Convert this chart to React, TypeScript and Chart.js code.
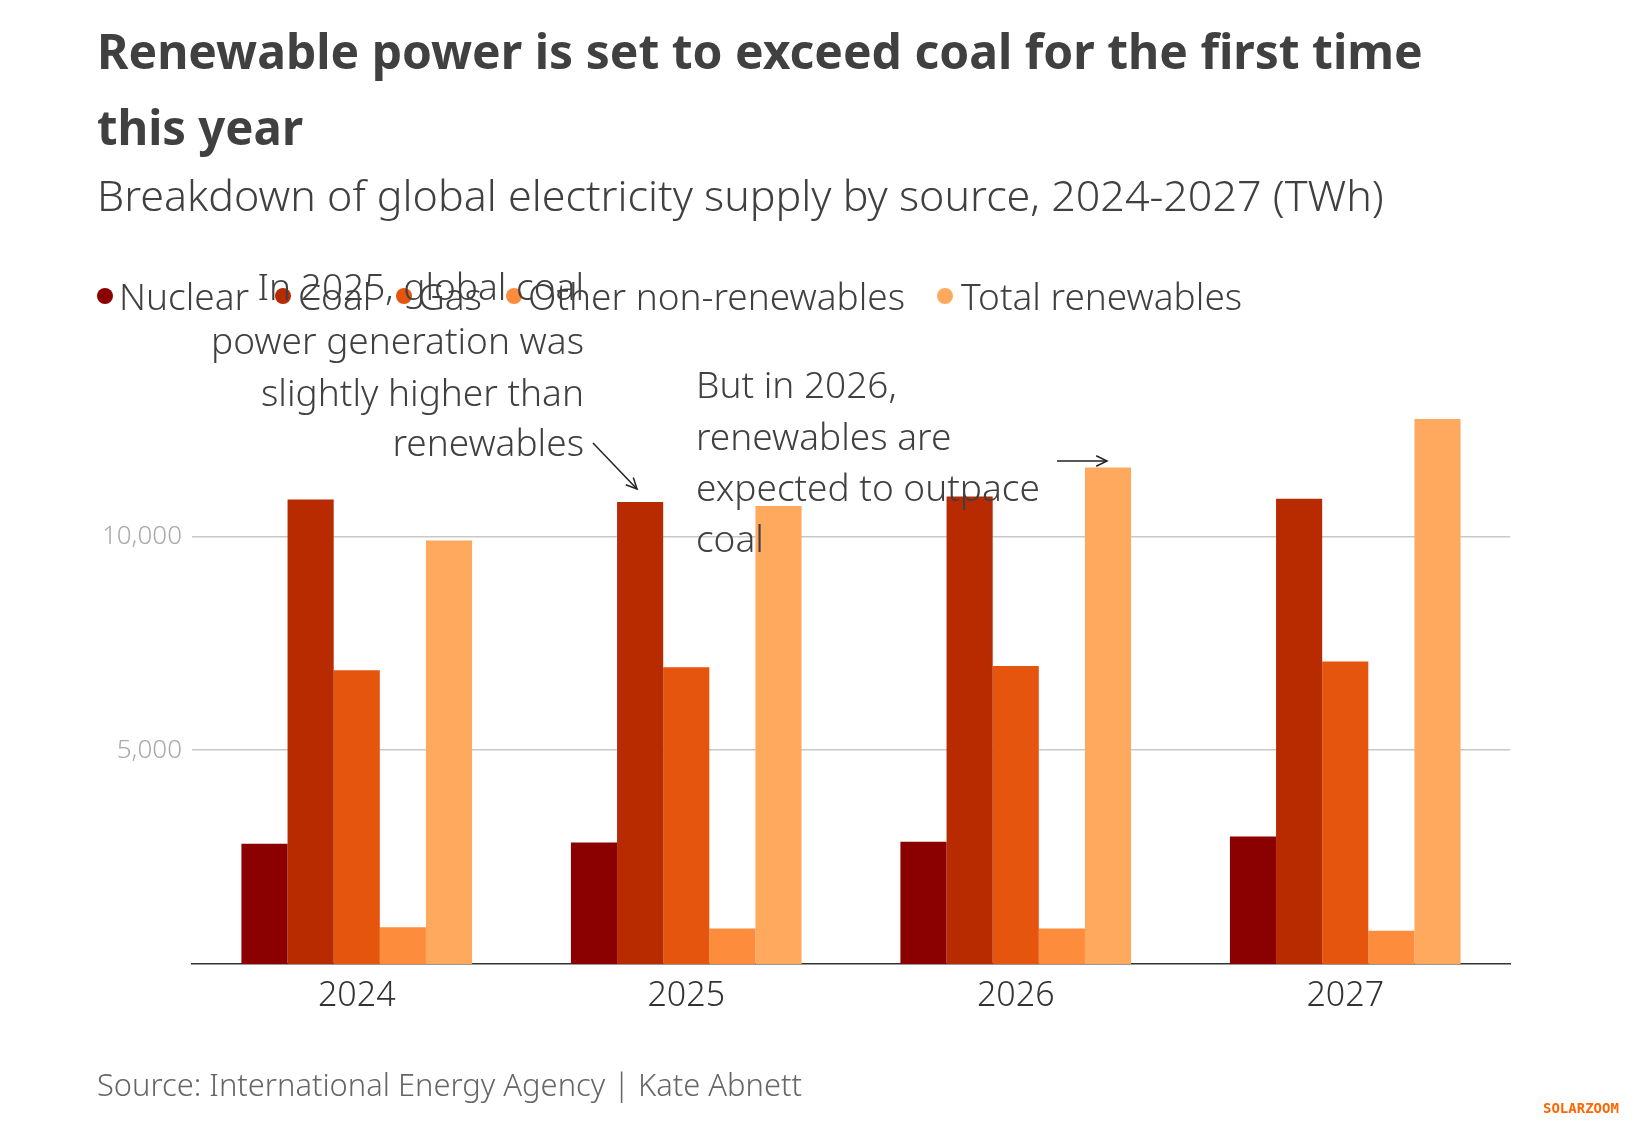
import React, { useEffect, useRef } from "react";
import { Chart, registerables } from "chart.js";
Chart.register(...registerables);

const categories = ["2024", "2025", "2026", "2027"];
const seriesNames = ["Nuclear", "Coal", "Gas", "Other non-renewables", "Total renewables"];
const nuclear = [2810, 2840, 2860, 2980];
const coal = [10860, 10800, 10930, 10880];
const gas = [6870, 6940, 6970, 7070];
const other = [860, 830, 830, 780];
const renewables = [9900, 10710, 11610, 12740];
const colors = ["#8b0000", "#b82a00", "#e6550d", "#fd8d3c", "#ffa95e"];
const yTicks = [5000, 10000];

const TXT = "#404040";
const FONT = "'Noto Sans', sans-serif";

const decor = {
  id: "decor",
  afterDraw(chart: any) {
    const c = chart.ctx;
    c.save();
    c.textBaseline = "middle";
    c.fillStyle = TXT;
    c.textAlign = "left";
    c.font = `bold 48px ${FONT}`;
    c.fillText("Renewable power is set to exceed coal for the first time", 97, 55, 1330);
    c.fillText("this year", 97, 131, 206);
    c.font = `300 43px ${FONT}`;
    c.fillText("Breakdown of global electricity supply by source, 2024-2027 (TWh)", 97, 199, 1307);
    const leg = [
      [105, 119, 134],
      [283, 298, 74],
      [404, 418, 70],
      [514, 528, 390],
      [945, 961, 294],
    ];
    c.font = `300 37px ${FONT}`;
    chart.data.datasets.forEach((d: any, i: number) => {
      const [dx, tx, w] = leg[i];
      c.fillStyle = d.backgroundColor;
      c.beginPath();
      c.arc(dx, 296, 8, 0, Math.PI * 2);
      c.fill();
      c.fillStyle = TXT;
      c.fillText(d.label, tx, 299, w);
    });
    c.font = `300 37px ${FONT}`;
    c.textAlign = "right";
    const a1 = ["In 2025, global coal", "power generation was", "slightly higher than", "renewables"];
    const a1y = [289, 343, 395, 445];
    a1.forEach((t, i) => c.fillText(t, 584, a1y[i]));
    c.textAlign = "left";
    const a2 = ["But in 2026,", "renewables are", "expected to outpace", "coal"];
    const a2y = [387, 439, 490, 541];
    a2.forEach((t, i) => c.fillText(t, 696, a2y[i]));
    c.strokeStyle = "#222";
    c.lineWidth = 1.5;
    const arrow = (x1: number, y1: number, x2: number, y2: number) => {
      c.beginPath();
      c.moveTo(x1, y1);
      c.lineTo(x2, y2);
      c.stroke();
      const ang = Math.atan2(y2 - y1, x2 - x1);
      c.beginPath();
      c.moveTo(x2 - 12 * Math.cos(ang - 0.45), y2 - 12 * Math.sin(ang - 0.45));
      c.lineTo(x2, y2);
      c.lineTo(x2 - 12 * Math.cos(ang + 0.45), y2 - 12 * Math.sin(ang + 0.45));
      c.stroke();
    };
    arrow(593, 443, 637, 489);
    arrow(1057, 461, 1107, 461);
    c.fillStyle = "#666";
    c.font = `300 32px ${FONT}`;
    c.fillText("Source: International Energy Agency | Kate Abnett", 97, 1087, 705);
    c.fillStyle = "#ff6600";
    c.font = `bold 14px 'DejaVu Sans Mono', monospace`;
    c.fillText("SOLARZOOM", 1543, 1109, 82);
    c.restore();
  },
};

export default function App() {
  const ref = useRef<HTMLCanvasElement>(null);
  useEffect(() => {
    const vals = [nuclear, coal, gas, other, renewables];
    const chart = new Chart(ref.current!, {
      type: "bar",
      data: {
        labels: categories,
        datasets: seriesNames.map((n, i) => ({
          label: n,
          data: vals[i],
          backgroundColor: colors[i],
          categoryPercentage: 0.7,
          barPercentage: 1,
        })),
      },
      options: {
        animation: false,
        responsive: false,
        layout: { padding: { top: 408, right: 127, bottom: 119, left: 0 } },
        plugins: { legend: { display: false }, tooltip: { enabled: false } },
        scales: {
          x: {
            grid: { display: false },
            border: { color: "#333", width: 1.5 },
            ticks: { color: "#333", font: { family: FONT, size: 34, weight: 300 }, padding: 4 },
            afterFit: (s: any) => { s.height = 60; },
          },
          y: {
            min: 0,
            max: 13000,
            afterBuildTicks: (s: any) => { s.ticks = yTicks.map((v) => ({ value: v })); },
            border: { display: false },
            grid: { color: "#c8c8c8", lineWidth: 1.5, drawTicks: false },
            ticks: {
              color: "#aaa",
              padding: 10,
              font: { family: FONT, size: 26, weight: 300 },
              callback: (v: any) => Number(v).toLocaleString("en-US"),
            },
            afterFit: (s: any) => { s.width = 192; },
          },
        },
      },
      plugins: [decor],
    });
    return () => chart.destroy();
  }, []);
  return (
    <div style={{ position: "fixed", left: 0, top: 0, width: 1637, height: 1143, background: "#fff" }}>
      <canvas ref={ref} width={1637} height={1143} style={{ width: 1637, height: 1143 }} />
    </div>
  );
}
